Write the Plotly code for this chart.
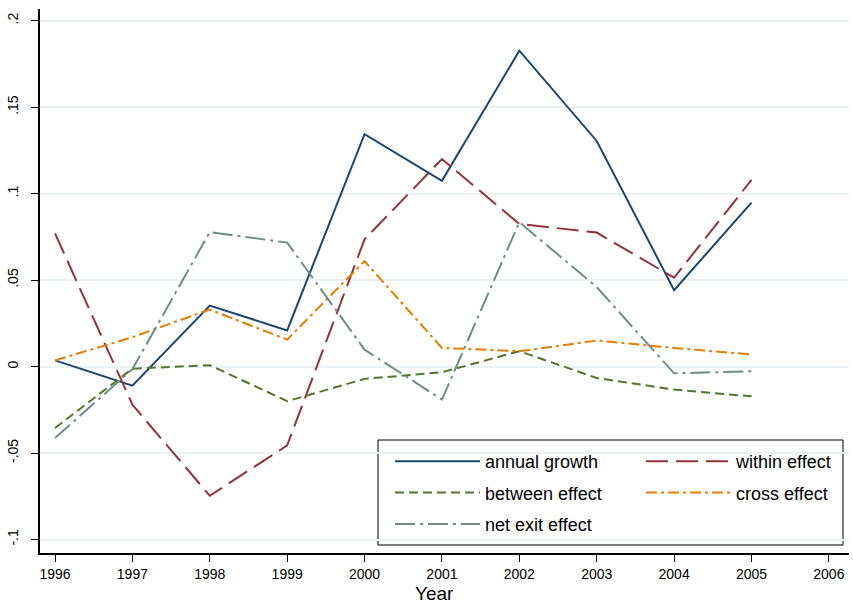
import plotly.graph_objects as go

years = [1996, 1997, 1998, 1999, 2000, 2001, 2002, 2003, 2004, 2005]
annual_growth = [0.0036, -0.011, 0.0353, 0.0209, 0.1344, 0.1074, 0.1827, 0.1305, 0.0442, 0.0948]
within_effect = [0.077, -0.022, -0.0747, -0.0456, 0.0736, 0.1200, 0.0825, 0.0775, 0.0514, 0.1080]
between_effect = [-0.0355, -0.0012, 0.0008, -0.0200, -0.0071, -0.0033, 0.0089, -0.0066, -0.0133, -0.0172]
cross_effect = [0.0036, 0.0170, 0.0330, 0.0156, 0.0610, 0.0108, 0.0089, 0.0151, 0.0108, 0.0070]
net_exit_effect = [-0.0413, -0.0015, 0.0778, 0.0717, 0.0098, -0.0191, 0.0835, 0.0460, -0.0039, -0.0027]

x_ticks = [1996, 1997, 1998, 1999, 2000, 2001, 2002, 2003, 2004, 2005, 2006]
y_tickvals = [-0.1, -0.05, 0, 0.05, 0.1, 0.15, 0.2]
y_ticktext = ["-.1", "-.05", "0", ".05", ".1", ".15", ".2"]

series = [
    ("annual growth", annual_growth, "#1a476f", "solid", "legend", "g1"),
    ("within effect", within_effect, "#90353b", "22px,8px", "legend2", "g2"),
    ("between effect", between_effect, "#55752f", "9px,5px", "legend", "g3"),
    ("cross effect", cross_effect, "#e37e00", "11px,4px,3px,4px", "legend2", "g4"),
    ("net exit effect", net_exit_effect, "#6e8e84", "20px,5px,3px,5px", "legend", "g5"),
]

fig = go.Figure()
for name, vals, color, dash, leg, grp in series:
    fig.add_trace(go.Scatter(
        x=years, y=vals, mode="lines", name=name,
        line=dict(color=color, width=2, dash=dash),
        legend=leg, legendgroup=grp,
    ))

W, H = 853, 604
ml, mr, mt, mb = 40, 4, 9, 51
pw, ph = W - ml - mr, H - mt - mb

def px_x(px):
    return (px - ml) / pw

def px_y(py):
    return (H - mb - py) / ph

tick_font = dict(family="Liberation Sans, Arial", size=14, color="black")
leg_font = dict(family="Liberation Sans, Arial", size=18, color="black")

fig.update_layout(
    width=W, height=H,
    margin=dict(l=ml, r=mr, t=mt, b=mb, autoexpand=False),
    paper_bgcolor="white", plot_bgcolor="white",
    showlegend=True,
    xaxis=dict(
        range=[1995.806, 2006.26], tickvals=x_ticks, ticktext=[str(t) for t in x_ticks],
        showgrid=False, zeroline=False, showline=True, linecolor="black", linewidth=1.5,
        ticks="outside", ticklen=7, tickcolor="black", tickwidth=1.2,
        tickfont=tick_font, automargin=False,
    ),
    yaxis=dict(
        range=[-0.1078, 0.2068], tickvals=y_tickvals, ticktext=y_ticktext,
        showgrid=True, gridcolor="#eaf2f3", gridwidth=1.5, zeroline=False,
        showline=True, linecolor="black", linewidth=1.5,
        ticks="outside", ticklen=7, tickcolor="black", tickwidth=1.2,
        tickangle=-90, tickfont=tick_font, automargin=False, ticklabelstandoff=8,
    ),
    legend=dict(
        x=px_x(390), y=px_y(443), xanchor="left", yanchor="top",
        bgcolor="rgba(0,0,0,0)", borderwidth=0, font=leg_font,
        itemwidth=85, traceorder="grouped", tracegroupgap=5,
    ),
    legend2=dict(
        x=px_x(641), y=px_y(443), xanchor="left", yanchor="top",
        bgcolor="rgba(0,0,0,0)", borderwidth=0, font=leg_font,
        itemwidth=85, traceorder="grouped", tracegroupgap=5,
    ),
    shapes=[dict(
        type="rect", xref="paper", yref="paper",
        x0=px_x(378), x1=px_x(843), y0=px_y(545), y1=px_y(440),
        line=dict(color="black", width=1), fillcolor="white", layer="below",
    )],
    annotations=[dict(
        text="Year", xref="paper", yref="paper", x=px_x(434), y=px_y(593),
        xanchor="center", yanchor="middle", showarrow=False,
        font=dict(family="Liberation Sans, Arial", size=19, color="black"),
    )],
)

fig.write_html("out.html", post_script="document.body.style.margin='0';",
               config={"displayModeBar": False})
